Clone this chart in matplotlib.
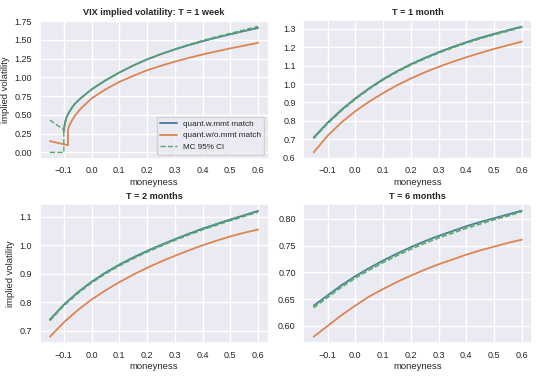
import matplotlib
matplotlib.use("Agg")
import matplotlib.pyplot as plt
from matplotlib.ticker import MultipleLocator
import seaborn as sns

sns.set_theme(style="darkgrid")
plt.rcParams['font.family'] = ['Liberation Sans', 'DejaVu Sans']

# ---- T = 1 week (irregular grid near the kink) ----
week_x = [-0.1, -0.099, -0.097, -0.094, -0.09, -0.085, -0.08, -0.07, -0.06, -0.04, -0.02,
          0.0, 0.05, 0.1, 0.15, 0.2, 0.25, 0.3, 0.35, 0.4, 0.45, 0.5, 0.55, 0.6]
week_mmt = [0.28, 0.32, 0.37, 0.42, 0.47, 0.51, 0.54, 0.60, 0.65, 0.72, 0.78,
            0.84, 0.96, 1.065, 1.158, 1.24, 1.31, 1.373, 1.43, 1.482, 1.53, 1.575, 1.618, 1.66]

week_nommt_x = [-0.15, -0.085, -0.085, -0.08, -0.07, -0.06, -0.04, -0.02,
                0.0, 0.05, 0.1, 0.15, 0.2, 0.25, 0.3, 0.35, 0.4, 0.45, 0.5, 0.55, 0.6]
week_nommt = [0.15, 0.095, 0.30, 0.36, 0.43, 0.49, 0.58, 0.65,
              0.72, 0.84, 0.94, 1.02, 1.095, 1.155, 1.21, 1.26, 1.305, 1.347, 1.387, 1.424, 1.46]

week_ci_x = [-0.15, -0.1, -0.1, -0.099, -0.097, -0.094, -0.09, -0.085, -0.08, -0.07, -0.06, -0.04, -0.02,
             0.0, 0.05, 0.1, 0.15, 0.2, 0.25, 0.3, 0.35, 0.4, 0.45, 0.5, 0.55, 0.6]
week_ci_hi = [0.43, 0.30, 0.30, 0.32, 0.37, 0.42, 0.47, 0.51, 0.54, 0.60, 0.65, 0.72, 0.78,
              0.84, 0.96, 1.065, 1.158, 1.24, 1.312, 1.378, 1.437, 1.492, 1.541, 1.587, 1.633, 1.68]
week_ci_lo = [0.0, 0.0, 0.28, 0.32, 0.37, 0.42, 0.47, 0.51, 0.54, 0.60, 0.65, 0.72, 0.78,
              0.84, 0.96, 1.065, 1.158, 1.24, 1.31, 1.373, 1.43, 1.482, 1.53, 1.575, 1.618, 1.657]

# ---- longer maturities on a regular grid ----
moneyness = [-0.15, -0.1, -0.05, 0.0, 0.05, 0.1, 0.15, 0.2,
             0.25, 0.3, 0.35, 0.4, 0.45, 0.5, 0.55, 0.6]

month_mmt = [0.71, 0.79, 0.86, 0.922, 0.977, 1.026, 1.069, 1.107,
             1.141, 1.172, 1.2, 1.226, 1.25, 1.271, 1.291, 1.31]
month_nommt = [0.63, 0.72, 0.792, 0.853, 0.905, 0.951, 0.993, 1.03,
               1.063, 1.093, 1.12, 1.145, 1.168, 1.19, 1.21, 1.23]
month_ci_hi = [0.712, 0.792, 0.862, 0.923, 0.978, 1.027, 1.070, 1.108,
               1.142, 1.173, 1.201, 1.227, 1.251, 1.272, 1.292, 1.312]
month_ci_lo = [0.705, 0.785, 0.855, 0.917, 0.972, 1.021, 1.064, 1.102,
               1.136, 1.167, 1.195, 1.221, 1.245, 1.266, 1.286, 1.306]

two_mmt = [0.74, 0.792, 0.835, 0.872, 0.904, 0.932, 0.957, 0.98,
           1.001, 1.021, 1.04, 1.058, 1.074, 1.09, 1.105, 1.12]
two_nommt = [0.68, 0.73, 0.773, 0.81, 0.842, 0.871, 0.897, 0.921,
             0.943, 0.963, 0.982, 1.0, 1.016, 1.031, 1.044, 1.055]
two_ci_hi = [0.741, 0.793, 0.836, 0.873, 0.905, 0.933, 0.958, 0.981,
             1.002, 1.022, 1.041, 1.059, 1.075, 1.091, 1.106, 1.121]
two_ci_lo = [0.736, 0.788, 0.831, 0.868, 0.900, 0.928, 0.953, 0.976,
             0.997, 1.017, 1.036, 1.054, 1.070, 1.086, 1.101, 1.116]

six_mmt = [0.638, 0.657, 0.676, 0.693, 0.708, 0.722, 0.735, 0.747,
           0.758, 0.768, 0.777, 0.786, 0.794, 0.801, 0.808, 0.815]
six_nommt = [0.58, 0.60, 0.62, 0.638, 0.655, 0.669, 0.682, 0.694,
             0.705, 0.715, 0.724, 0.733, 0.741, 0.748, 0.755, 0.761]
six_ci_hi = [0.637, 0.656, 0.675, 0.692, 0.707, 0.721, 0.734, 0.746,
             0.757, 0.767, 0.776, 0.785, 0.793, 0.800, 0.807, 0.815]
six_ci_lo = [0.634, 0.653, 0.672, 0.689, 0.704, 0.718, 0.731, 0.743,
             0.754, 0.764, 0.773, 0.782, 0.790, 0.798, 0.805, 0.813]

blue, orange, green = '#4C72B0', '#DD8452', '#55A868'

fig, axes = plt.subplots(2, 2, figsize=(5.42, 3.79), dpi=100)
fig.subplots_adjust(left=0.073, right=0.982, top=0.947, bottom=0.095,
                    wspace=0.152, hspace=0.33)

panels = [
    (axes[0, 0], 'VIX implied volatility: T = 1 week', 0.25,
     (week_x, week_mmt), (week_nommt_x, week_nommt), (week_ci_x, week_ci_hi, week_ci_lo)),
    (axes[0, 1], 'T = 1 month', 0.1,
     (moneyness, month_mmt), (moneyness, month_nommt), (moneyness, month_ci_hi, month_ci_lo)),
    (axes[1, 0], 'T = 2 months', 0.1,
     (moneyness, two_mmt), (moneyness, two_nommt), (moneyness, two_ci_hi, two_ci_lo)),
    (axes[1, 1], 'T = 6 months', 0.05,
     (moneyness, six_mmt), (moneyness, six_nommt), (moneyness, six_ci_hi, six_ci_lo)),
]

for ax, title, ystep, mmt, nommt, ci in panels:
    ax.plot(mmt[0], mmt[1], color=blue, lw=1.3, label='quant.w.mmt match')
    ax.plot(nommt[0], nommt[1], color=orange, lw=1.3, label='quant.w/o.mmt match')
    ax.plot(ci[0], ci[1], color=green, lw=1.0, ls='--', label='MC 95% CI')
    ax.plot(ci[0], ci[2], color=green, lw=1.0, ls='--')
    ax.set_title(title, fontsize=6.6, fontweight='bold', pad=4)
    ax.set_xlabel('moneyness', fontsize=6.8, labelpad=2)
    ax.tick_params(labelsize=6.5, length=0, pad=5.5)
    ax.xaxis.set_major_locator(MultipleLocator(0.1))
    ax.yaxis.set_major_locator(MultipleLocator(ystep))

axes[0, 0].set_ylabel('implied volatility', fontsize=6.8, labelpad=3)
axes[1, 0].set_ylabel('implied volatility', fontsize=6.8, labelpad=3)
axes[0, 0].legend(loc='lower right', fontsize=5.9)

plt.savefig('out.png', dpi=100)
